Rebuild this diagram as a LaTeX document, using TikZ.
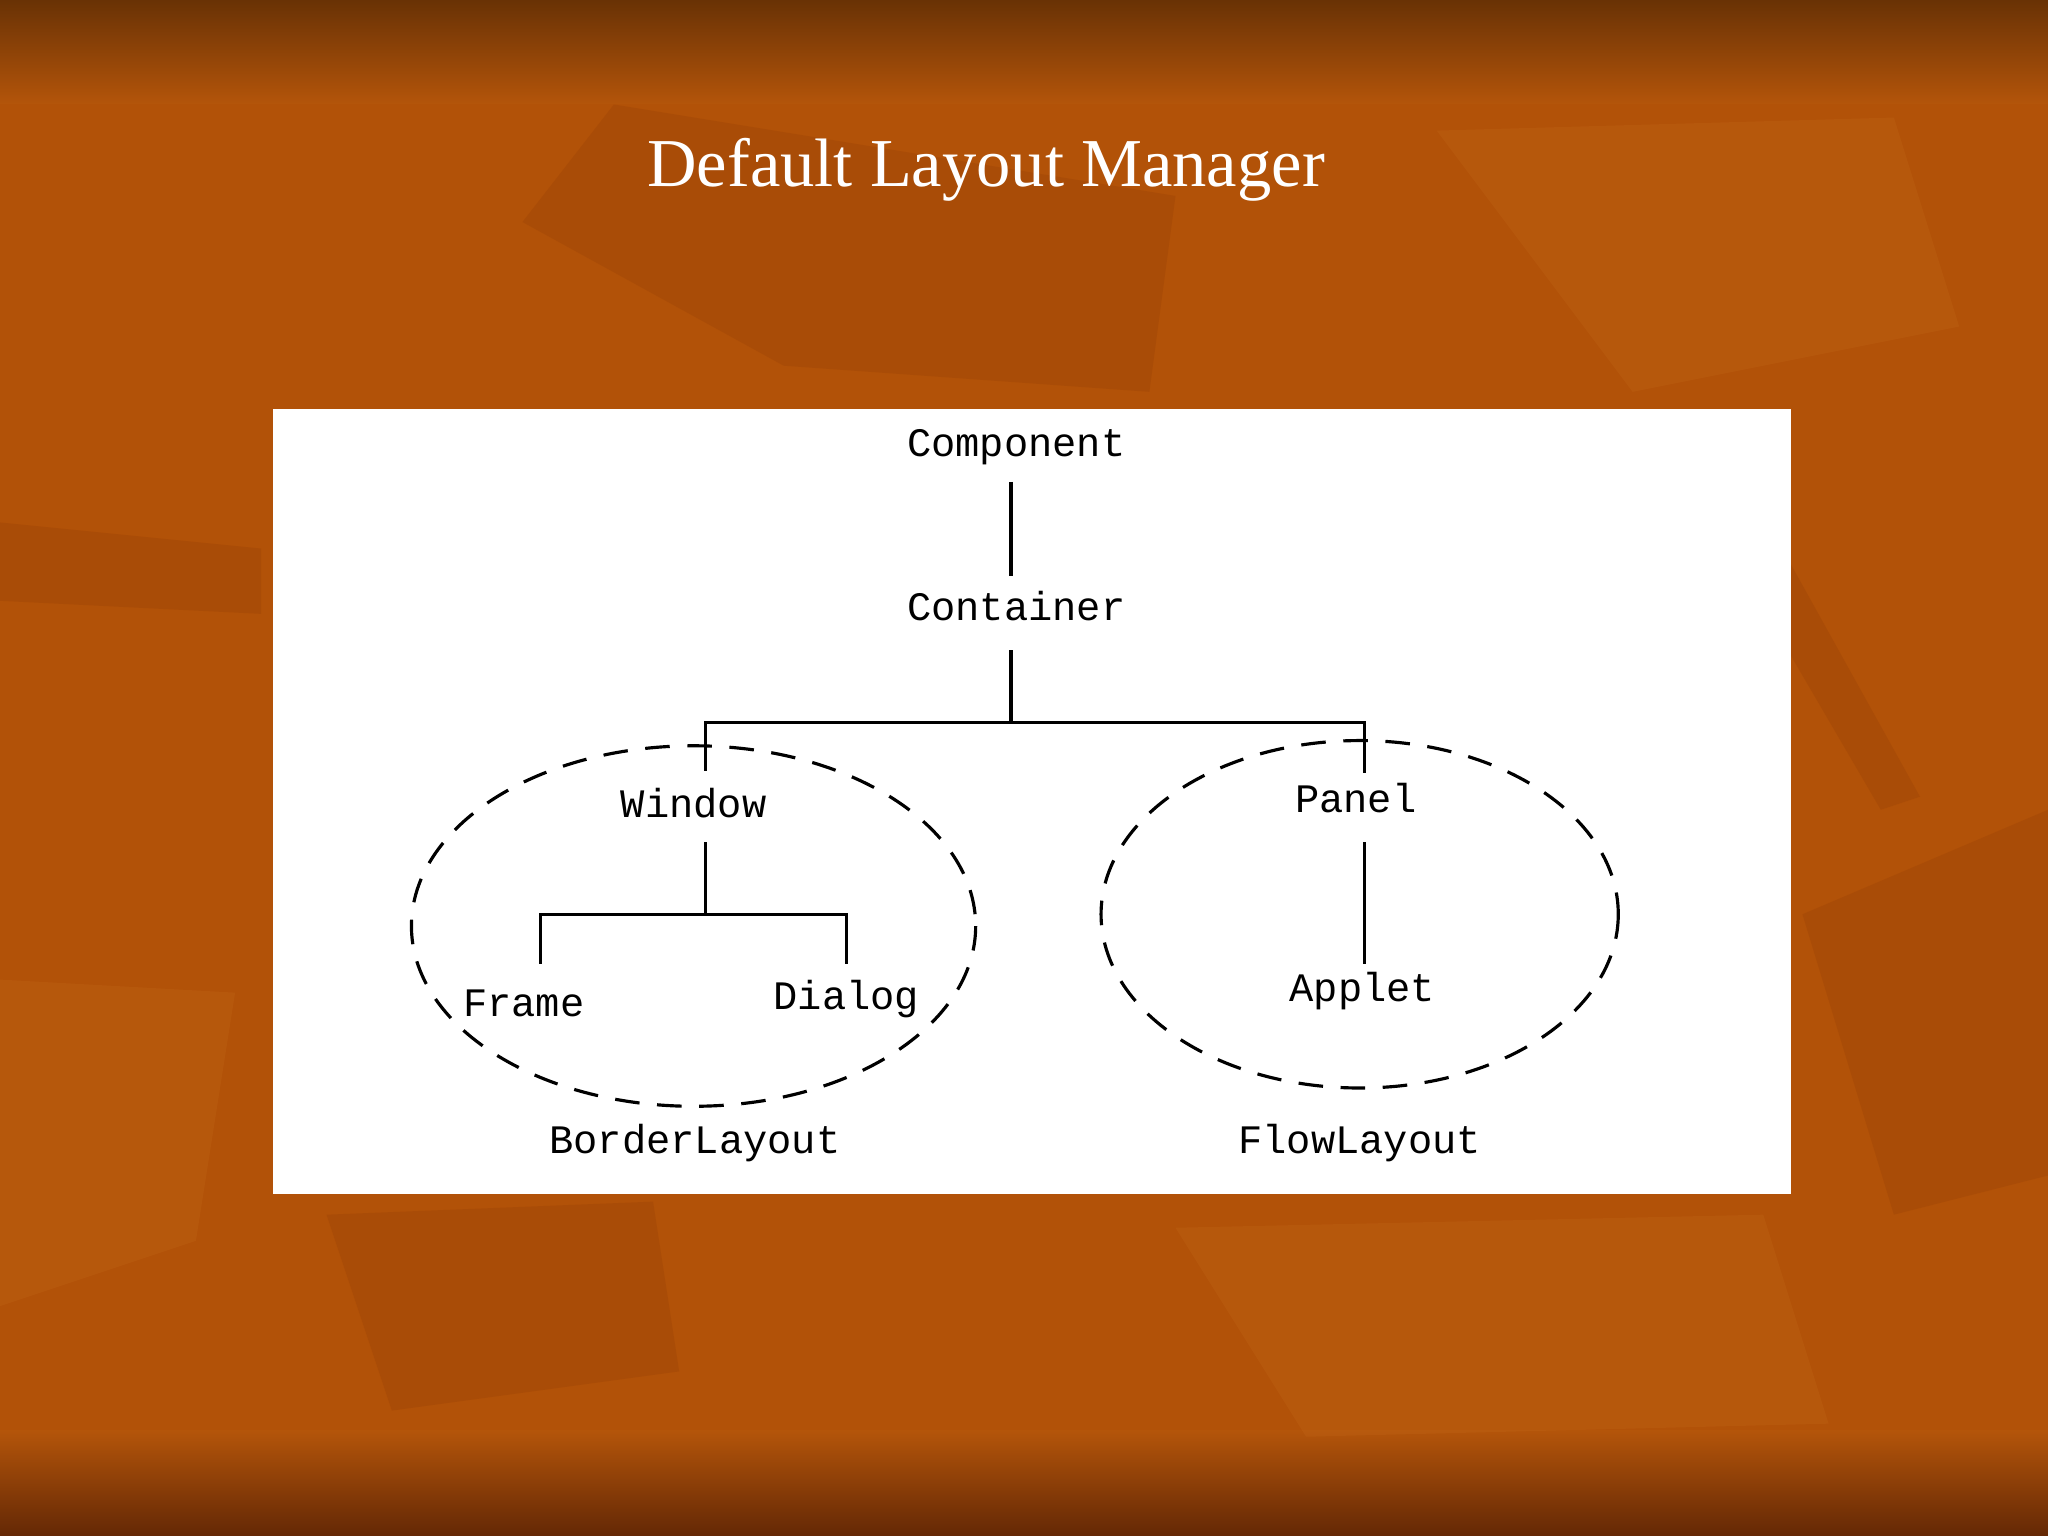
\documentclass[tikz,border=0pt]{standalone}
\usepackage{fontspec}
\setmainfont{Liberation Serif}
\newfontfamily\monofont{Liberation Mono}
\definecolor{bgdark}{RGB}{105,50,5}
\definecolor{bgmain}{RGB}{178,82,8}
\definecolor{bgmid}{RGB}{180,85,10}
\definecolor{bgbot}{RGB}{100,40,5}
\definecolor{leafd}{RGB}{140,55,5}
\definecolor{leafl}{RGB}{200,110,30}
\begin{document}
\begin{tikzpicture}[x=0.013061cm,y=-0.013061cm,
  lbl/.style={font=\monofont\fontsize{11.5}{12}\selectfont,inner sep=1pt},
  ln/.style={line width=0.9pt},
  grp/.style={line width=0.9pt,dash pattern=on 7pt off 5pt}]
\useasboundingbox (0,0) rectangle (1568,1176);
\shade[top color=bgdark,bottom color=bgmid] (0,0) rectangle (1568,80);
\fill[bgmain] (0,80) rectangle (1568,1095);
\shade[top color=bgmid,bottom color=bgbot] (0,1095) rectangle (1568,1176);
\begin{scope}[opacity=0.22]
\fill[leafd] (400,170) -- (470,80) -- (900,150) -- (880,300) -- (600,280) -- cycle;
\fill[leafd] (0,400) -- (200,420) -- (200,470) -- (0,460) -- cycle;
\fill[leafd] (1370,430) -- (1470,610) -- (1440,620) -- (1370,500) -- cycle;
\fill[leafl] (1100,100) -- (1450,90) -- (1500,250) -- (1250,300) -- cycle;
\fill[leafd] (250,930) -- (500,920) -- (520,1050) -- (300,1080) -- cycle;
\fill[leafl] (900,940) -- (1350,930) -- (1400,1090) -- (1000,1100) -- cycle;
\fill[leafd] (1380,700) -- (1568,620) -- (1568,900) -- (1450,930) -- cycle;
\fill[leafl] (0,750) -- (180,760) -- (150,950) -- (0,1000) -- cycle;
\end{scope}
\node[white,font=\fontsize{19.5}{22}\selectfont] (title) at (755,130) {Default Layout Manager};
\fill[white] (209,313) rectangle (1371,914);
\node[lbl] (comp) at (778,342) {Component};
\node[lbl] (cont) at (778,464) {Container};
\node[lbl] (win) at (531,615) {Window};
\node[lbl] (panel) at (1038,611) {Panel};
\node[lbl] (frame) at (401,768) {Frame};
\node[lbl] (dialog) at (648,765) {Dialog};
\node[lbl] (applet) at (1043,759) {Applet};
\node[lbl] (bl) at (532,875) {BorderLayout};
\node[lbl] (fl) at (1041,875) {FlowLayout};
\draw[grp] (531,709) ellipse [x radius=216,y radius=138];
\draw[grp] (1041,700) ellipse [x radius=198,y radius=133];
\draw[ln] (774,369) -- (774,441);
\draw[ln] (774,498) -- (774,553);
\draw[ln] (540,590) -- (540,553) -- (1045,553) -- (1045,592);
\draw[ln] (540,645) -- (540,700);
\draw[ln] (414,738) -- (414,700) -- (648,700) -- (648,738);
\draw[ln] (1045,645) -- (1045,738);
\end{tikzpicture}
\end{document}
